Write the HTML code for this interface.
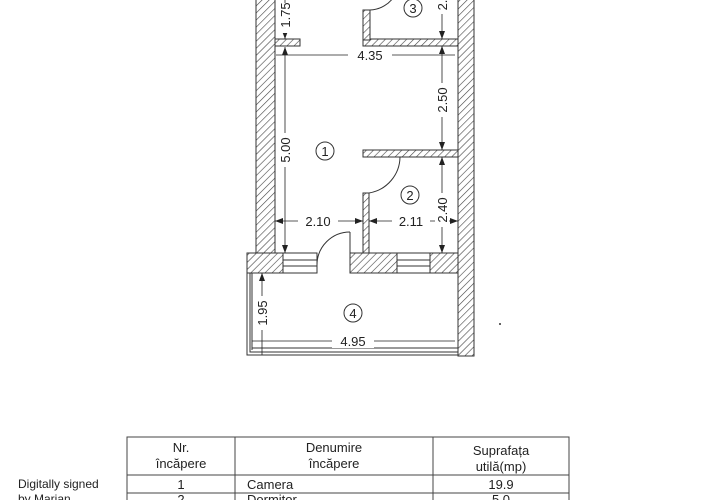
<!DOCTYPE html>
<html><head><meta charset="utf-8"><style>
body{margin:0;background:#fff;width:720px;height:500px;overflow:hidden}
svg{display:block}
text{font-family:"Liberation Sans",sans-serif;fill:#222}
</style></head><body>
<svg width="720" height="500" viewBox="0 0 720 500" xmlns="http://www.w3.org/2000/svg">
<defs>
<pattern id="h" width="5" height="5" patternUnits="userSpaceOnUse" patternTransform="rotate(45)">
<rect width="5" height="5" fill="#fff"/><line x1="0" y1="0" x2="0" y2="5" stroke="#444" stroke-width="1.2"/>
</pattern>
<marker id="a" markerWidth="8" markerHeight="6" refX="8" refY="3" orient="auto-start-reverse" markerUnits="userSpaceOnUse">
<path d="M0,0 L8,3 L0,6 z" fill="#222"/></marker>
</defs>
<g stroke="#333" stroke-width="1" fill="url(#h)">
<rect x="256" y="-2" width="19" height="257"/>
<rect x="458" y="-2" width="16" height="358"/>
<rect x="275" y="39" width="25" height="7"/>
<rect x="363" y="39" width="95" height="7"/>
<rect x="363" y="10" width="7" height="30"/>
<rect x="363" y="150" width="95" height="7"/>
<rect x="363" y="193" width="6" height="61"/>
<rect x="247" y="253" width="36" height="20"/>
<rect x="350" y="253" width="47" height="20"/>
<rect x="430" y="253" width="28" height="20"/>
</g>
<g stroke="#333" stroke-width="1" fill="#fff">
<rect x="283" y="253" width="34" height="20"/>
<line x1="283" y1="260" x2="317" y2="260"/><line x1="283" y1="266" x2="317" y2="266"/>
<rect x="397" y="253" width="33" height="20"/>
<line x1="397" y1="260" x2="430" y2="260"/><line x1="397" y1="266" x2="430" y2="266"/>
</g>
<g stroke="#333" stroke-width="1" fill="none">
<path d="M400,157 A37,37 0 0 1 369,193"/>
<path d="M370,10 A30,30 0 0 0 395,-5"/>
<line x1="350" y1="232" x2="350" y2="253"/>
<path d="M350,232 A33,33 0 0 0 317,265"/>
<path d="M247,273 V355 H458"/>
<path d="M250,273 V352 H458"/>
<line x1="252" y1="273" x2="252" y2="350"/>
<line x1="252" y1="348" x2="458" y2="348"/>
</g>
<g stroke="#222" stroke-width="0.8" fill="none">
<line x1="285" y1="0" x2="285" y2="39" marker-end="url(#a)"/>
<line x1="285" y1="47" x2="285" y2="253" marker-start="url(#a)" marker-end="url(#a)"/>
<line x1="276" y1="55" x2="455" y2="55"/>
<line x1="442" y1="0" x2="442" y2="39" marker-end="url(#a)"/>
<line x1="442" y1="46" x2="442" y2="150" marker-start="url(#a)" marker-end="url(#a)"/>
<line x1="442" y1="157" x2="442" y2="253" marker-start="url(#a)" marker-end="url(#a)"/>
<line x1="275" y1="221" x2="363" y2="221" marker-start="url(#a)" marker-end="url(#a)"/>
<line x1="369" y1="221" x2="458" y2="221" marker-start="url(#a)" marker-end="url(#a)"/>
<line x1="262" y1="273" x2="262" y2="355" marker-start="url(#a)"/>
<line x1="252" y1="341" x2="455" y2="341"/>
</g>
<g fill="#fff">
<rect x="278" y="3" width="14" height="30"/>
<rect x="278" y="133" width="14" height="34"/>
<rect x="348" y="48" width="44" height="14"/>
<rect x="435" y="83" width="14" height="34"/>
<rect x="435" y="193" width="14" height="34"/>
<rect x="298" y="214" width="40" height="14"/>
<rect x="392" y="214" width="38" height="14"/>
<rect x="255" y="296" width="14" height="34"/>
<rect x="332" y="334" width="42" height="14"/>
<rect x="435" y="0" width="14" height="14"/>
</g>
<g font-size="13">
<text x="370" y="60" text-anchor="middle">4.35</text>
<text x="318" y="226" text-anchor="middle">2.10</text>
<text x="411" y="226" text-anchor="middle">2.11</text>
<text x="353" y="346" text-anchor="middle">4.95</text>
<text transform="translate(290,150) rotate(-90)" text-anchor="middle">5.00</text>
<text transform="translate(290,15) rotate(-90)" text-anchor="middle">1.75</text>
<text transform="translate(447,100) rotate(-90)" text-anchor="middle">2.50</text>
<text transform="translate(447,210) rotate(-90)" text-anchor="middle">2.40</text>
<text transform="translate(447,5) rotate(-90)" text-anchor="middle">2.</text>
<text transform="translate(267,313) rotate(-90)" text-anchor="middle">1.95</text>
</g>
<g stroke="#333" stroke-width="1" fill="#fff">
<circle cx="325" cy="151" r="9"/><circle cx="410" cy="195" r="9"/>
<circle cx="413" cy="8" r="9"/><circle cx="353" cy="313" r="9"/>
</g>
<g font-size="13" text-anchor="middle">
<text x="325" y="156">1</text><text x="410" y="200">2</text>
<text x="413" y="13">3</text><text x="353" y="318">4</text>
</g>
<g stroke="#444" stroke-width="1" fill="none">
<rect x="127" y="437" width="442" height="70"/>
<line x1="127" y1="475" x2="569" y2="475"/>
<line x1="127" y1="493" x2="569" y2="493"/>
<line x1="235" y1="437" x2="235" y2="507"/>
<line x1="433" y1="437" x2="433" y2="507"/>
</g>
<g font-size="13">
<text x="181" y="452" text-anchor="middle">Nr.</text>
<text x="181" y="468" text-anchor="middle">încăpere</text>
<text x="334" y="452" text-anchor="middle">Denumire</text>
<text x="334" y="468" text-anchor="middle">încăpere</text>
<text x="501" y="455" text-anchor="middle">Suprafața</text>
<text x="501" y="471" text-anchor="middle">utilă(mp)</text>
<text x="181" y="489" text-anchor="middle">1</text>
<text x="247" y="489">Camera</text>
<text x="501" y="489" text-anchor="middle">19.9</text>
<text x="181" y="504" text-anchor="middle">2</text>
<text x="247" y="504">Dormitor</text>
<text x="501" y="504" text-anchor="middle">5.0</text>
<text x="18" y="488" font-size="12">Digitally signed</text>
<text x="18" y="503" font-size="12">by Marian</text>
</g>
<circle cx="500" cy="324" r="1" fill="#333"/>
</svg>
</body></html>
